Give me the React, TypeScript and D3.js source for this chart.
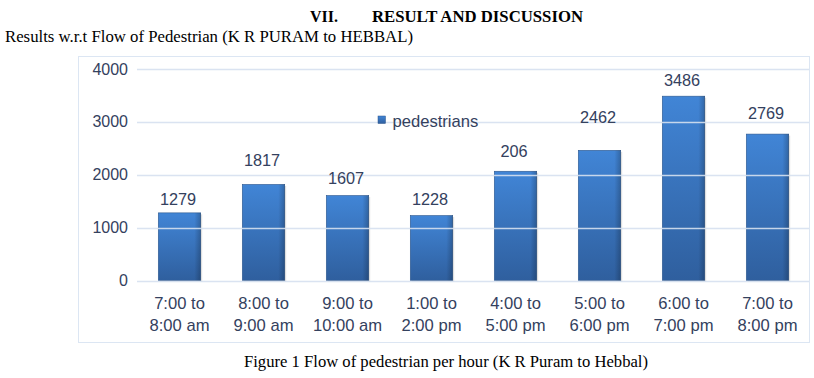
import React from "react";
import * as d3 from "d3";

const categories: string[] = [
  "7:00 to|8:00 am",
  "8:00 to|9:00 am",
  "9:00 to|10:00 am",
  "1:00 to|2:00 pm",
  "4:00 to|5:00 pm",
  "5:00 to|6:00 pm",
  "6:00 to|7:00 pm",
  "7:00 to|8:00 pm",
];
const pedestrians: number[] = [1279, 1817, 1607, 1228, 2066, 2462, 3486, 2769];
const valueLabels: string[] = ["1279", "1817", "1607", "1228", "206", "2462", "3486", "2769"];
const yTicks: number[] = [0, 1000, 2000, 3000, 4000];
const seriesName = "pedestrians";

// label lift above bar top (layout, px)
const labelLift: number[] = [8, 18, 12, 11, 14, 27, 10, 15];

const W = 814;
const H = 378;
const TEXT = "#34415e";
const GRID = "#d6e1f0";
const SANS = "'Liberation Sans', Arial, sans-serif";
const SERIF = "'Liberation Serif', 'Times New Roman', serif";

export default function App() {
  const x = d3
    .scaleBand<string>()
    .domain(categories)
    .range([137.5, 809.5])
    .paddingInner(0.495)
    .paddingOuter(0.2475);
  const y = d3.scaleLinear().domain([0, 4000]).range([280.5, 69]);

  return (
    <div style={{ position: "absolute", left: 0, top: 0 }}>
      <svg width={W} height={H} style={{ display: "block" }}>
        <defs>
          <linearGradient id="barGrad" x1="0" y1="0" x2="0" y2="1">
            <stop offset="0%" stopColor="#4185d6" />
            <stop offset="100%" stopColor="#2f5f9e" />
          </linearGradient>
          <linearGradient id="barEdge" x1="0" y1="0" x2="1" y2="0">
            <stop offset="0%" stopColor="#000" stopOpacity={0} />
            <stop offset="85%" stopColor="#000" stopOpacity={0} />
            <stop offset="100%" stopColor="#000" stopOpacity={0.22} />
          </linearGradient>
        </defs>
        <rect x={0} y={0} width={W} height={H} fill="#fff" />

        {/* headings */}
        <text x={310} y={22} fontFamily={SERIF} fontWeight="bold" fontSize={16} fill="#000">
          VII.
        </text>
        <text
          x={372}
          y={22}
          fontFamily={SERIF}
          fontWeight="bold"
          fontSize={16}
          fill="#000"
          textLength={211}
          lengthAdjust="spacingAndGlyphs"
        >
          RESULT AND DISCUSSION
        </text>
        <text
          x={5}
          y={42}
          fontFamily={SERIF}
          fontSize={16}
          fill="#000"
          textLength={408}
          lengthAdjust="spacingAndGlyphs"
        >
          Results w.r.t Flow of Pedestrian (K R PURAM to HEBBAL)
        </text>

        {/* chart frame */}
        <rect x={78.5} y={56.5} width={731} height={286} fill="#fff" stroke="#dce6f3" strokeWidth={1} />

        {/* bars */}
        {pedestrians.map((v, i) => {
          const bx = x(categories[i])!;
          const by = y(v);
          const bh = y(0) - by;
          return (
            <g key={i}>
              <rect x={bx + 1.5} y={by + 1.5} width={x.bandwidth()} height={bh} fill="#000" opacity={0.12} />
              <rect x={bx} y={by} width={x.bandwidth()} height={bh} fill="url(#barGrad)" stroke="#2d568c" strokeWidth={0.6} />
              <rect x={bx} y={by} width={x.bandwidth()} height={bh} fill="url(#barEdge)" />
            </g>
          );
        })}

        {/* gridlines over bars */}
        {yTicks.map((t) => (
          <line
            key={t}
            x1={137}
            x2={809}
            y1={Math.round(y(t)) + 0.5}
            y2={Math.round(y(t)) + 0.5}
            stroke={GRID}
            strokeWidth={1.6}
            opacity={0.9}
          />
        ))}

        {/* y tick labels */}
        {yTicks.map((t) => (
          <text
            key={t}
            x={128}
            y={y(t) + 5.5}
            textAnchor="end"
            fontFamily={SANS}
            fontSize={16}
            fill={TEXT}
          >
            {t}
          </text>
        ))}

        {/* value labels */}
        {pedestrians.map((v, i) => (
          <text
            key={i}
            x={x(categories[i])! + x.bandwidth() / 2 - 1.5}
            y={y(v) - labelLift[i]}
            textAnchor="middle"
            fontFamily={SANS}
            fontSize={16.3}
            fill={TEXT}
          >
            {valueLabels[i]}
          </text>
        ))}

        {/* category labels */}
        {categories.map((c, i) => {
          const [l1, l2] = c.split("|");
          const cx = x(c)! + x.bandwidth() / 2;
          return (
            <text key={c} textAnchor="middle" fontFamily={SANS} fontSize={16.6} fill={TEXT}>
              <tspan x={cx} y={309}>
                {l1}
              </tspan>
              <tspan x={cx} y={331}>
                {l2}
              </tspan>
            </text>
          );
        })}

        {/* legend */}
        <rect x={378} y={116} width={7.5} height={7.5} fill="url(#barGrad)" stroke="#2d568c" strokeWidth={0.5} />
        <text x={392.5} y={127} fontFamily={SANS} fontSize={16.6} fill={TEXT}>
          {seriesName}
        </text>

        {/* caption */}
        <text
          x={244}
          y={367}
          fontFamily={SERIF}
          fontSize={16}
          fill="#000"
          textLength={404}
          lengthAdjust="spacingAndGlyphs"
        >
          Figure 1 Flow of pedestrian per hour (K R Puram to Hebbal)
        </text>
      </svg>
    </div>
  );
}
